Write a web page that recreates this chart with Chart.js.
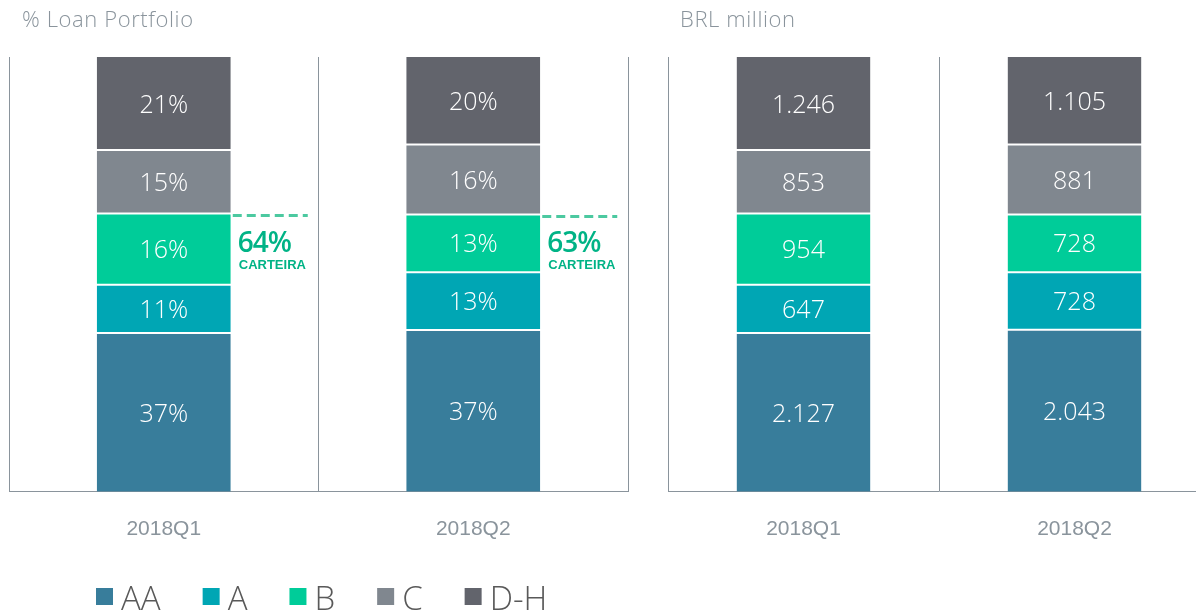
<!DOCTYPE html>
<html lang="en">
<head>
<meta charset="UTF-8" />
<title>Loan Portfolio by Rating</title>
<script src="https://cdn.jsdelivr.net/npm/chart.js"></script>
<style>
  html, body { margin: 0; padding: 0; background: #fff; overflow: hidden; width: 1196px; height: 611px; }
  canvas { position: absolute; top: 0; }
  #left { left: 0; }
  #right { left: 640px; }
</style>
</head>
<body>
<canvas id="left" width="640" height="611"></canvas>
<canvas id="right" width="580" height="611"></canvas>
<script>
const quarters = ["2018Q1", "2018Q2"];
const ratings = ["AA", "A", "B", "C", "D-H"];
const colors = ["#387d9b", "#00a6b4", "#00cc99", "#80878f", "#62646c"];

// % of loan portfolio
const shareAA = [36.5, 37.2];
const shareA = [11.1, 13.3];
const shareB = [16.4, 13.3];
const shareC = [14.6, 16.1];
const shareDH = [21.4, 20.1];

// BRL million
const brlAA = [2127, 2043];
const brlA = [647, 728];
const brlB = [954, 728];
const brlC = [853, 881];
const brlDH = [1246, 1105];

// AA + A + B share callout
const carteira = ["64%", "63%"];

const shares = [shareAA, shareA, shareB, shareC, shareDH];
const brl = [brlAA, brlA, brlB, brlC, brlDH];
const brlTotals = quarters.map((q, i) => brl.reduce((s, arr) => s + arr[i], 0));

const GREY = "#8a949c";
const LIGHT = "'Open Sans', 'Noto Sans', sans-serif";

function fmtBRL(v) {
  return String(v).replace(/\B(?=(\d{3})+(?!\d))/g, ".");
}

function makeDatasets(values, labelFn) {
  return ratings.map((r, k) => ({
    label: r,
    data: values[k],
    labelText: values[k].map((v, i) => labelFn(k, i, v)),
    backgroundColor: colors[k],
    borderColor: "#ffffff",
    borderSkipped: false,
    borderWidth: { top: k === 4 ? 0 : 1, bottom: k === 0 ? 0 : 1, left: 0, right: 0 },
  }));
}

const segmentLabels = {
  id: "segmentLabels",
  afterDatasetsDraw(chart) {
    const ctx = chart.ctx;
    ctx.save();
    ctx.fillStyle = "#ffffff";
    ctx.font = "300 25px " + LIGHT;
    ctx.textAlign = "center";
    ctx.textBaseline = "middle";
    chart.data.datasets.forEach((ds, k) => {
      chart.getDatasetMeta(k).data.forEach((el, i) => {
        ctx.fillText(ds.labelText[i], el.x, (el.y + el.base) / 2 + 2);
      });
    });
    ctx.restore();
  },
};

function panelTitle(text, x) {
  return {
    id: "panelTitle",
    afterDraw(chart) {
      const ctx = chart.ctx;
      ctx.save();
      ctx.fillStyle = GREY;
      ctx.font = "300 22px " + LIGHT;
      ctx.letterSpacing = "0.6px";
      ctx.textBaseline = "middle";
      ctx.fillText(text, x, 21);
      ctx.restore();
    },
  };
}

// legend drawn by hand so the spacing matches the slide
const ratingLegend = {
  id: "ratingLegend",
  afterDraw(chart) {
    const ctx = chart.ctx;
    ctx.save();
    ctx.font = "300 33px " + LIGHT;
    ctx.textBaseline = "alphabetic";
    let x = 96;
    ratings.forEach((r, k) => {
      ctx.fillStyle = colors[k];
      ctx.fillRect(x, 588, 17, 17);
      ctx.fillStyle = "#595959";
      ctx.fillText(r, x + 25, 610);
      x += 25 + ctx.measureText(r).width + 42;
    });
    ctx.restore();
  },
};

const carteiraCallout = {
  id: "carteiraCallout",
  afterDatasetsDraw(chart) {
    const ctx = chart.ctx;
    const meta = chart.getDatasetMeta(2);
    ctx.save();
    meta.data.forEach((el, i) => {
      const x0 = el.x + el.width / 2 + 2;
      ctx.strokeStyle = "#4cc9a0";
      ctx.lineWidth = 3;
      ctx.setLineDash([9, 5]);
      ctx.beginPath();
      ctx.moveTo(x0, el.y + 2);
      ctx.lineTo(x0 + 75, el.y + 2);
      ctx.stroke();
      ctx.fillStyle = "#00b386";
      ctx.textAlign = "left";
      ctx.textBaseline = "alphabetic";
      ctx.font = "600 28px " + LIGHT;
      ctx.letterSpacing = "-1px";
      ctx.fillText(carteira[i], x0 + 5, el.y + 38);
      ctx.letterSpacing = "0px";
      ctx.font = "bold 13px 'Liberation Sans', Arial, sans-serif";
      ctx.fillText("CARTEIRA", x0 + 6, el.y + 55);
    });
    ctx.restore();
  },
};

function baseOptions(catPct, padding) {
  return {
    responsive: false,
    animation: false,
    devicePixelRatio: 1,
    layout: { padding },
    plugins: {
      legend: { display: false },
      tooltip: { enabled: false },
    },
    datasets: { bar: { barPercentage: 1, categoryPercentage: catPct } },
    scales: {
      x: {
        stacked: true,
        grid: { offset: true, drawTicks: false, color: GREY, lineWidth: 1 },
        border: { display: true, color: GREY, width: 1 },
        ticks: {
          padding: 25,
          color: GREY,
          font: { family: "'Liberation Sans', Arial, sans-serif", size: 21 },
        },
      },
      y: { stacked: true, display: false, min: 0, max: 100 },
    },
  };
}

new Chart(document.getElementById("left"), {
  type: "bar",
  data: {
    labels: quarters,
    datasets: makeDatasets(shares, (k, i, v) => Math.round(v) + "%"),
  },
  options: baseOptions(0.433, { left: 9, right: 12, top: 57, bottom: 44 }),
  plugins: [segmentLabels, carteiraCallout, ratingLegend, panelTitle("% Loan Portfolio", 22)],
});

const brlShares = brl.map((arr) => arr.map((v, i) => (v / brlTotals[i]) * 100));

new Chart(document.getElementById("right"), {
  type: "bar",
  data: {
    labels: quarters,
    datasets: makeDatasets(brlShares, (k, i) => fmtBRL(brl[k][i])),
  },
  options: baseOptions(0.494, { left: 28, right: 10, top: 57, bottom: 44 }),
  plugins: [segmentLabels, panelTitle("BRL million", 40)],
});
</script>
</body>
</html>
